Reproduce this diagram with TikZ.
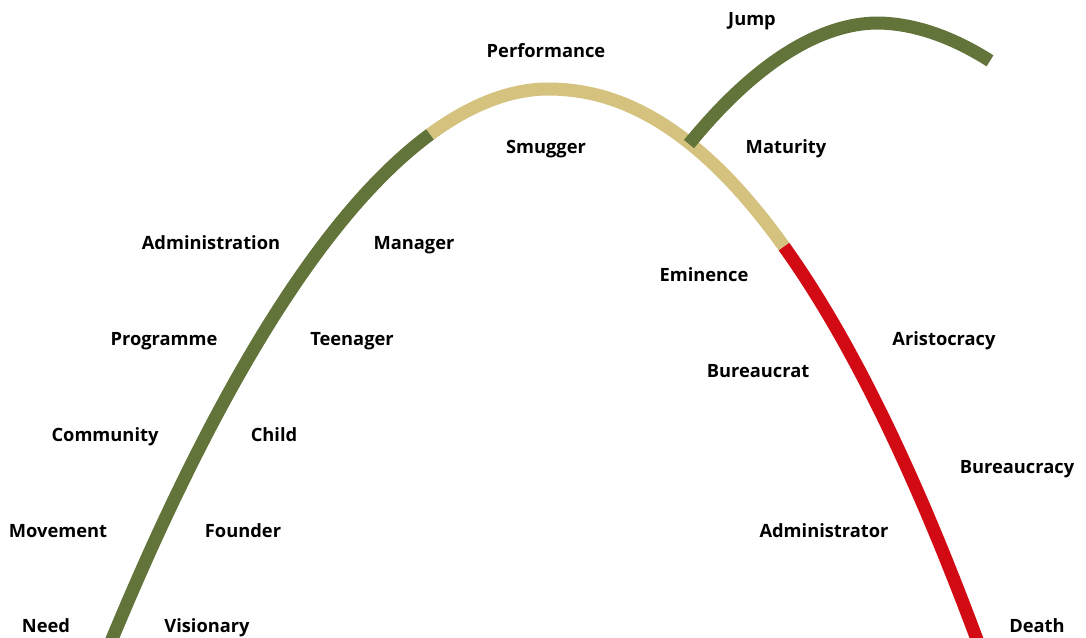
\documentclass[tikz,border=0pt]{standalone}
\usepackage{fontspec}
\setmainfont{Open Sans}
\definecolor{lifegreen}{HTML}{62743A}
\definecolor{lifetan}{HTML}{D4C27E}
\definecolor{lifered}{HTML}{D20A14}
\tikzset{
    stage/.style = {font=\bfseries\fontsize{18.3}{20}\selectfont, anchor=base, inner sep=0pt},
    arc/.style = {line width=13pt, line cap=butt},
    declare function = {
        lifey(\u) = 89 + (\u<5.47)*33.68*max(5.47-\u,0.0001)^1.9 + (\u>=5.47)*25.74*max(\u-5.47,0.0001)^2.1;
        jumpy(\u) = 23 + (\u<8.77)*36.5*max(8.77-\u,0.0001)^1.9 + (\u>=8.77)*30*max(\u-8.77,0.0001)^1.9;
    }
}
\newcommand{\lifecurve}{plot[domain=1.09:5.0, samples=60, variable=\u] ({100*\u}, {lifey(\u)}) -- plot[domain=5.0:9.8, samples=90, variable=\u] ({100*\u}, {lifey(\u)})}
\begin{document}
\begin{tikzpicture}[x=1pt, y=-1pt]
    \useasboundingbox (0,0) rectangle (1086,637);
    \begin{scope}
        \clip (-20,-20) -- (316.5,-20) -- (606.7,373.7) -- (300,700) -- (-20,700) -- cycle;
        \draw[arc, lifegreen] \lifecurve;
    \end{scope}
    \begin{scope}
        \clip (316.5,-20) -- (1156,-20) -- (606.7,373.7) -- cycle;
        \draw[arc, lifetan] \lifecurve;
    \end{scope}
    \begin{scope}
        \clip (1156,-20) -- (1200,-20) -- (1200,700) -- (800,700) -- (606.7,373.7) -- cycle;
        \draw[arc, lifered] \lifecurve;
    \end{scope}
    \draw[arc, lifegreen] plot[domain=6.89:9.9, samples=80, variable=\u] ({100*\u}, {jumpy(\u)});

    \node[stage] (need) at (46,632) {Need};
    \node[stage] (movement) at (58,537) {Movement};
    \node[stage] (community) at (105,441) {Community};
    \node[stage] (programme) at (164,345) {Programme};
    \node[stage] (administration) at (211,249) {Administration};
    \node[stage] (visionary) at (207,632) {Visionary};
    \node[stage] (founder) at (243,537) {Founder};
    \node[stage] (child) at (274,441) {Child};
    \node[stage] (teenager) at (352,345) {Teenager};
    \node[stage] (manager) at (414,249) {Manager};
    \node[stage] (performance) at (546,57) {Performance};
    \node[stage] (smugger) at (546,153) {Smugger};
    \node[stage] (jump) at (752,25) {Jump};
    \node[stage] (maturity) at (786,153) {Maturity};
    \node[stage] (eminence) at (704,281) {Eminence};
    \node[stage] (bureaucrat) at (758,377) {Bureaucrat};
    \node[stage] (administrator) at (824,537) {Administrator};
    \node[stage] (aristocracy) at (944,345) {Aristocracy};
    \node[stage] (bureaucracy) at (1017,473) {Bureaucracy};
    \node[stage] (death) at (1037,632) {Death};
\end{tikzpicture}
\end{document}
